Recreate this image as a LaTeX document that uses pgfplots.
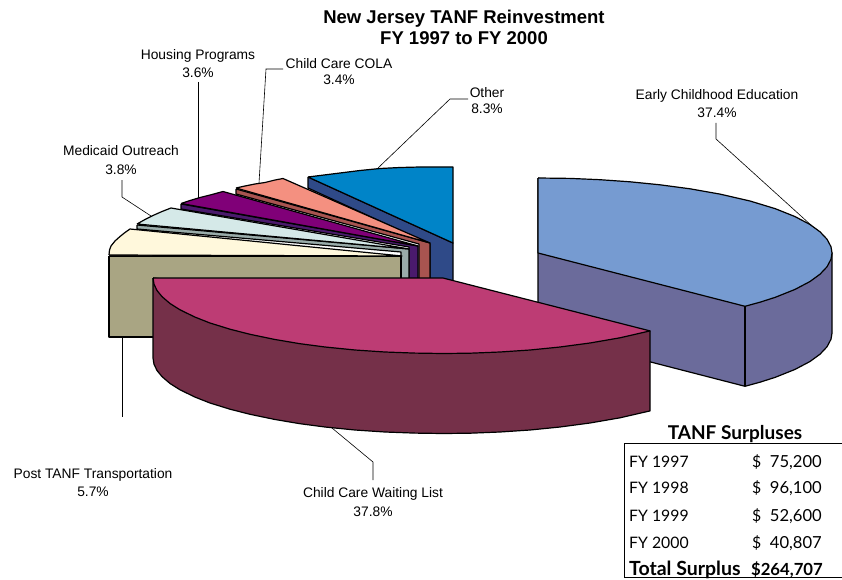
\documentclass[border=0pt]{standalone}
\usepackage{pgfplots}
\pgfplotsset{compat=1.18}
\usepackage{fontspec}
\setmainfont{Liberation Sans}
\newfontfamily\gill{Lato}
\definecolor{otherT}{HTML}{0084C8}
\definecolor{otherS}{HTML}{2F4A88}
\definecolor{colaT}{HTML}{F49080}
\definecolor{colaS}{HTML}{A85450}
\definecolor{housT}{HTML}{800078}
\definecolor{housS}{HTML}{4A1A6C}
\definecolor{mediT}{HTML}{D5E9E8}
\definecolor{mediS}{HTML}{9AACAA}
\definecolor{postT}{HTML}{FFF8DC}
\definecolor{postS}{HTML}{A9A583}
\definecolor{waitT}{HTML}{BD3C74}
\definecolor{waitS}{HTML}{753049}
\definecolor{earlyT}{HTML}{769BD1}
\definecolor{earlyS}{HTML}{6B6B9B}
\pgfplotsset{
  face/.style={fill=#1, draw=black, line width=1.2pt, line join=round, mark=none},
  leader/.style={draw=black, line width=0.6pt, mark=none},
  rule/.style={draw=black, line width=1pt, mark=none},
}
\newcommand{\lab}[5]{\node[font=\fontsize{13.8}{15}\selectfont, anchor=base] at (axis cs:#1,#2) {#3};
  \node[font=\fontsize{13.8}{15}\selectfont, anchor=base] at (axis cs:#1,#5) {#4};}
\newcommand{\cell}[4]{\node[font=\gill\fontsize{#4}{18}\selectfont, anchor=#3, inner sep=0pt] at (axis cs:#1) {#2};}
\begin{document}
\begin{tikzpicture}
\useasboundingbox (0,0) rectangle (842pt,580pt);
\begin{axis}[
    at={(0,0)}, anchor=south west,
    scale only axis,
    width=842pt, height=580pt,
    xmin=0, xmax=842, ymin=0, ymax=580,
    y dir=reverse,
    axis lines=none,
    clip=false,
]
% Other
\addplot[face=otherS] coordinates {(308,177)(453,243)(453,282)(430,282)(430,244)(308,188)(308,177)};
\addplot[face=otherT] coordinates {(308,177)(320,175.5)(340,173)(360,170.5)(380,168.5)(400,167.5)(420,167)(453,167)(453,243)(308,177)};
% Child Care COLA
\addplot[face=colaS] coordinates {(236,189)(430,243)(430,282)(419,282)(419,244)(236,194)(236,189)};
\addplot[face=colaT] coordinates {(236,188)(245,186)(255,184)(265,182.5)(275,180)(283,178.5)(430,243)(236,188)};
% Housing Programs
\addplot[face=housS] coordinates {(181,204)(418,246)(418,282)(409,282)(409,247)(181,209)(181,204)};
\addplot[face=housT] coordinates {(181,203.5)(190,200.5)(200,197.5)(212,194.5)(223,191.5)(418,246)(181,203.5)};
% Medicaid Outreach
\addplot[face=mediS] coordinates {(137,225)(409,249)(409,282)(401,282)(401,252)(137,229)(137,225)};
\addplot[face=mediT] coordinates {(137,224)(145,219.5)(153,215.5)(162,211.5)(171,208)(409,249)(137,224)};
% Post TANF Transportation
\addplot[face=postS] coordinates {(109,256)(401,256)(401,337)(109,337)(109,256)};
\addplot[face=postT] coordinates {(109,255)(109.5,250)(111,246)(115,241)(120,236.5)(125,232.5)(130,229)(402,256)(109,255)};
% Early Childhood Education
\addplot[face=earlyS] coordinates {(538,178)(538,333)(745,386.3)(760,382.2)(775,377.4)(795,369.4)(810,361.5)(820,354.2)(827,346.8)(831,339.2)(832,333)(832,253)(538,178)};
\addplot[face=earlyT] coordinates {(538,178)(570,178.4)(600,179.7)(630,181.8)(660,184.8)(690,188.8)(720,194.1)(750,201)(775,208.6)(795,216.6)(810,224.5)(820,231.8)(827,239.2)(831,246.8)(832,253)(831,259.2)(827,266.8)(820,274.2)(810,281.5)(795,289.4)(775,297.4)(760,302.2)(745,306.3)(538,253)(538,178)};
\addplot[draw=black, line width=1.8pt, mark=none] coordinates {(745,306.3)(745,386.3)};
% Child Care Waiting List
\addplot[face=waitS] coordinates {(153,278)(153,358)(154,364.2)(157,370.5)(162,376.6)(170,383.5)(180,389.8)(195,397.1)(210,403)(230,409.2)(250,414.3)(275,419.5)(300,423.7)(325,427)(355,430)(385,432)(415,433.1)(443,433.5)(470,433.2)(500,432)(530,430)(560,427)(590,423)(620,417.8)(650,410.9)(650,330.9)(153,278)};
\addplot[face=waitT] coordinates {(153,278)(154,284.2)(157,290.5)(162,296.6)(170,303.5)(180,309.8)(195,317.1)(210,323)(230,329.2)(250,334.3)(275,339.5)(300,343.7)(325,347)(355,350)(385,352)(415,353.1)(443,353.5)(470,353.2)(500,352)(530,350)(560,347)(590,343)(620,337.8)(650,330.9)(443,278)(153,278)};
% leader lines
\addplot[leader] coordinates {(468,99)(450,99)(378,168)};
\addplot[leader] coordinates {(283,69)(266,69)(259,183)};
\addplot[leader] coordinates {(198,82)(198,198)};
\addplot[leader] coordinates {(122,180)(122,197)(151,216)};
\addplot[leader] coordinates {(122,338)(122,417)};
\addplot[leader] coordinates {(332,428)(373,462)(373,480)};
\addplot[leader] coordinates {(716,123)(716,139)(812,226)};
% table frame
\addplot[rule] coordinates {(842,443)(624,443)(624,577)(842,577)};
% title
\node[font=\fontsize{18.5}{20}\bfseries, anchor=base] at (axis cs:464,24) {New Jersey TANF Reinvestment};
\node[font=\fontsize{18.5}{20}\bfseries, anchor=base] at (axis cs:464,45) {FY 1997 to FY 2000};
% labels
\lab{717}{100}{Early Childhood Education}{37.4\%}{117.3}
\lab{487}{97.7}{Other}{8.3\%}{114}
\lab{339}{68.3}{Child Care COLA}{3.4\%}{85}
\lab{198}{59.3}{Housing Programs}{3.6\%}{77.3}
\lab{121}{156}{Medicaid Outreach}{3.8\%}{175}
\lab{93}{478}{Post TANF Transportation}{5.7\%}{496}
\lab{373}{497}{Child Care Waiting List}{37.8\%}{516}
% table text
\node[font=\gill\fontsize{19}{20}\selectfont\bfseries, anchor=base] at (axis cs:735,439) {TANF Surpluses};
\cell{629,467}{FY 1997}{base west}{15.8}
\cell{629,493}{FY 1998}{base west}{15.8}
\cell{629,521}{FY 1999}{base west}{15.8}
\cell{629,548}{FY 2000}{base west}{15.8}
\cell{752,467}{\$}{base west}{15.8}
\cell{752,493}{\$}{base west}{15.8}
\cell{752,521}{\$}{base west}{15.8}
\cell{752,548}{\$}{base west}{15.8}
\cell{822,467}{75,200}{base east}{16.6}
\cell{822,493}{96,100}{base east}{16.6}
\cell{822,521}{52,600}{base east}{16.6}
\cell{822,548}{40,807}{base east}{16.6}
\node[font=\gill\fontsize{19.5}{20}\selectfont\bfseries, anchor=base west, inner sep=0pt] at (axis cs:629,575) {Total Surplus};
\node[font=\gill\fontsize{16.7}{20}\selectfont\bfseries, anchor=base east, inner sep=0pt] at (axis cs:823,575) {\$264,707};
\end{axis}
\end{tikzpicture}
\end{document}
